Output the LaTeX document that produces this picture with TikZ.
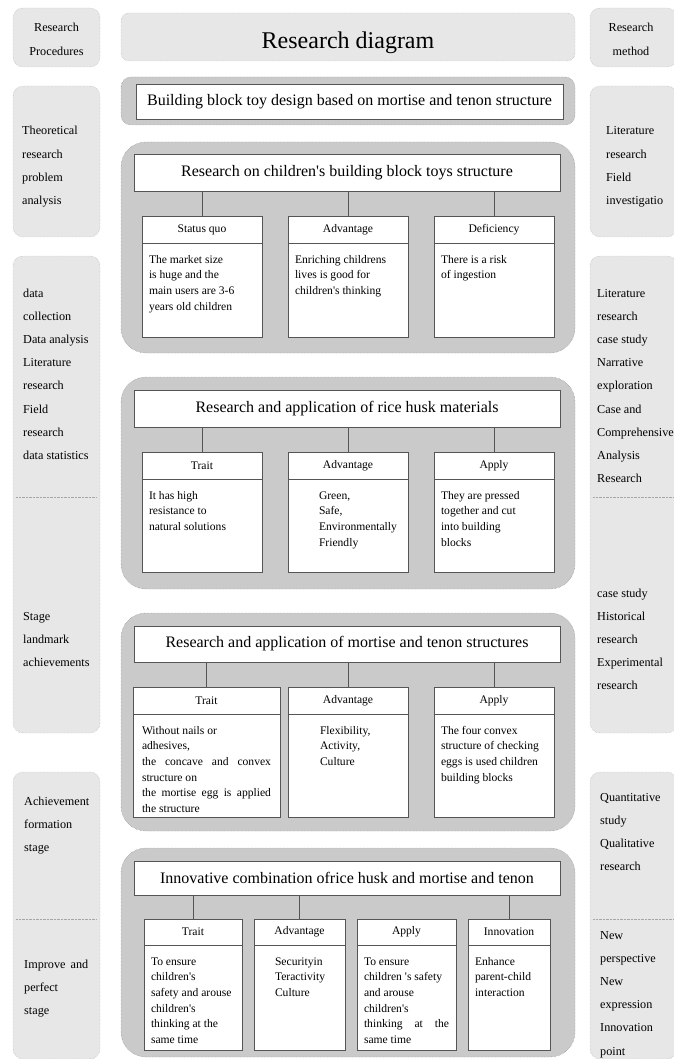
\documentclass[tikz,border=0pt]{standalone}
\usepackage{fontspec}
\setmainfont{Liberation Serif}[Ligatures=TeXOff]
\definecolor{panelfill}{HTML}{E7E7E7}
\definecolor{paneledge}{HTML}{A6A6A6}
\definecolor{groupfill}{HTML}{CACACA}
\definecolor{groupedge}{HTML}{777777}
\definecolor{boxedge}{HTML}{555555}
\newcommand{\sidelines}[1]{\parbox[t]{80pt}{\fontsize{12.2}{23.2}\selectfont\raggedright #1}}
\newcommand{\bodylines}[4][0pt]{\parbox[t][#3pt][t]{#2pt}{\fontsize{11.6}{15.7}\selectfont\raggedright\leftskip=#1\rule{0pt}{20pt}#4}}

\begin{document}
\begin{tikzpicture}[x=1pt, y=-1pt,
    panel/.style={draw=paneledge, densely dotted, fill=panelfill, rounded corners=10pt},
    group/.style={draw=groupedge, densely dotted, fill=groupfill, rounded corners=#1},
    group/.default=25pt,
    headbox/.style={draw=boxedge, fill=white, line width=0.9pt, inner sep=0pt, outer sep=0pt, anchor=north west, font=\fontsize{16}{19}\selectfont},
    subhead/.style={draw=boxedge, fill=white, line width=0.9pt, inner sep=0pt, outer sep=0pt, anchor=north west, font=\fontsize{11.6}{14}\selectfont},
    subbody/.style={draw=boxedge, fill=white, line width=0.9pt, inner xsep=7pt, inner ysep=0pt, outer sep=0pt, anchor=north west},
    sidetext/.style={inner sep=0pt, anchor=base west},
    link/.style={draw=boxedge, line width=0.9pt}]
    \useasboundingbox (0,0) rectangle (673,1059);

    % Side panels
    \foreach \x in {13, 590} {
        \draw[panel] (\x,8) rectangle ++(87,59);
        \draw[panel] (\x,86) rectangle ++(87,151);
        \draw[panel] (\x,256) rectangle ++(87,477);
        \draw[panel] (\x,772) rectangle ++(87,287);
        \draw[paneledge, densely dotted] (\x+3,497) -- ++(81,0);
        \draw[paneledge, densely dotted] (\x+3,919) -- ++(81,0);
    }

    % Left column: procedures
    \node[inner sep=0pt, anchor=base] (procl) at (56.5,32) {\parbox[t]{84pt}{\centering\fontsize{12.2}{23.2}\selectfont Research\\Procedures}};
    \node[sidetext] (theoryl) at (22,135) {\sidelines{Theoretical\\research\\problem\\analysis}};
    \node[sidetext] (datal) at (23,297) {\sidelines{data\\collection\\Data analysis\\Literature\\research\\Field\\research\\data statistics}};
    \node[sidetext] (stagel) at (23,620) {\sidelines{Stage\\landmark\\achievements}};
    \node[sidetext] (formal) at (24,805) {\sidelines{Achievement\\formation\\stage}};
    \node[sidetext] (improvel) at (24,968) {\sidelines{\makebox[64pt][s]{Improve and}\\perfect\\stage}};

    % Right column: methods
    \node[inner sep=0pt, anchor=base] (methr) at (631,32) {\parbox[t]{84pt}{\centering\fontsize{12.2}{23.2}\selectfont Research\\method}};
    \node[sidetext] (litr) at (606,135) {\sidelines{Literature\\research\\Field\\investigatio}};
    \node[sidetext] (caser) at (597,297) {\sidelines{Literature\\research\\case study\\Narrative\\exploration\\Case and\\Comprehensive\\Analysis\\Research}};
    \node[sidetext] (histr) at (597,597) {\sidelines{case study\\Historical\\research\\Experimental\\research}};
    \node[sidetext] (quantr) at (600,801) {\sidelines{Quantitative\\study\\Qualitative\\research}};
    \node[sidetext] (newr) at (600,939) {\sidelines{New\\perspective\\New\\expression\\Innovation\\point}};

    % Title and topic
    \draw[panel, rounded corners=8pt] (121,13) rectangle (575,61);
    \node[anchor=base, font=\fontsize{24}{28}\selectfont] (title) at (348,49) {Research diagram};
    \draw[group=10pt] (121,77) rectangle (575,125);
    \node[headbox, minimum width=427pt, minimum height=35pt] (topic) at (136,84) {Building block toy design based on mortise and tenon structure};

    % Group 1: building block toys
    \draw[group] (121,142) rectangle (575,353);
    \node[headbox, minimum width=426pt, minimum height=37pt] (h1) at (134,154) {Research on children's building block toys structure};
    \node[subhead, minimum width=120pt, minimum height=27pt] (s1a) at (142,216) {Status quo};
    \node[subhead, minimum width=120pt, minimum height=27pt] (s1b) at (288,216) {Advantage};
    \node[subhead, minimum width=120pt, minimum height=27pt] (s1c) at (434,216) {Deficiency};
    \node[subbody] (s1ab) at (s1a.south west) {\bodylines{106}{94}{The market size\\is huge and the\\main users are 3-6\\years old children}};
    \node[subbody] (s1bb) at (s1b.south west) {\bodylines{106}{94}{Enriching childrens\\lives is good for\\children's thinking}};
    \node[subbody] (s1cb) at (s1c.south west) {\bodylines{106}{94}{There is a risk\\of ingestion}};
    \foreach \s in {s1a, s1b, s1c}
        \draw[link] (\s.north) -- (\s.north |- h1.south);

    % Group 2: rice husk
    \draw[group] (121,377) rectangle (575,589);
    \node[headbox, minimum width=426pt, minimum height=37pt] (h2) at (134,390) {Research and application of rice husk materials};
    \node[subhead, minimum width=120pt, minimum height=27pt] (s2a) at (142,452) {Trait};
    \node[subhead, minimum width=120pt, minimum height=27pt] (s2b) at (288,452) {Advantage};
    \node[subhead, minimum width=120pt, minimum height=27pt] (s2c) at (434,452) {Apply};
    \node[subbody] (s2ab) at (s2a.south west) {\bodylines{106}{93}{It has high\\resistance to\\natural solutions}};
    \node[subbody] (s2bb) at (s2b.south west) {\bodylines[24pt]{106}{93}{Green,\\Safe,\\Environmentally\\Friendly}};
    \node[subbody] (s2cb) at (s2c.south west) {\bodylines{106}{93}{They are pressed\\together and cut\\into building\\blocks}};
    \foreach \s in {s2a, s2b, s2c}
        \draw[link] (\s.north) -- (\s.north |- h2.south);

    % Group 3: mortise and tenon
    \draw[group] (121,613) rectangle (575,831);
    \node[headbox, minimum width=426pt, minimum height=36pt] (h3) at (134,626) {Research and application of mortise and tenon structures};
    \node[subhead, minimum width=147pt, minimum height=27pt] (s3a) at (133,687) {Trait};
    \node[subhead, minimum width=120pt, minimum height=27pt] (s3b) at (288,687) {Advantage};
    \node[subhead, minimum width=120pt, minimum height=27pt] (s3c) at (434,687) {Apply};
    \node[subbody, inner xsep=9pt] (s3ab) at (s3a.south west) {\bodylines{129}{103}{Without nails or\\adhesives,\\\makebox[\linewidth][s]{the concave and convex}\\structure on\\\makebox[\linewidth][s]{the mortise egg is applied}\\the structure}};
    \node[subbody] (s3bb) at (s3b.south west) {\bodylines[25pt]{106}{103}{Flexibility,\\Activity,\\Culture}};
    \node[subbody] (s3cb) at (s3c.south west) {\bodylines{106}{103}{The four convex\\structure of checking\\eggs is used children\\building blocks}};
    \foreach \s in {s3a, s3b, s3c}
        \draw[link] (\s.north) -- (\s.north |- h3.south);

    % Group 4: innovative combination
    \draw[group] (121,848) rectangle (575,1057);
    \node[headbox, minimum width=426pt, minimum height=34pt] (h4) at (134,861) {Innovative combination ofrice husk and mortise and tenon};
    \node[subhead, minimum width=98pt, minimum height=26pt] (s4a) at (144,919) {Trait};
    \node[subhead, minimum width=91pt, minimum height=26pt] (s4b) at (254,919) {Advantage};
    \node[subhead, minimum width=99pt, minimum height=26pt] (s4c) at (357,919) {Apply};
    \node[subhead, minimum width=82pt, minimum height=26pt] (s4d) at (468,919) {Innovation};
    \node[subbody] (s4ab) at (s4a.south west) {\bodylines{84}{105}{To ensure\\children's\\safety and arouse\\children's\\thinking at the\\same time}};
    \node[subbody] (s4bb) at (s4b.south west) {\bodylines[14pt]{77}{105}{Securityin\\Teractivity\\Culture}};
    \node[subbody] (s4cb) at (s4c.south west) {\bodylines{85}{105}{To ensure\\children 's safety\\and arouse\\children's\\\makebox[\linewidth][s]{thinking at the}\\same time}};
    \node[subbody] (s4db) at (s4d.south west) {\bodylines{68}{105}{Enhance\\parent-child\\interaction}};
    \foreach \s in {s4a, s4b, s4d}
        \draw[link] (\s.north) -- (\s.north |- h4.south);
\end{tikzpicture}
\end{document}
